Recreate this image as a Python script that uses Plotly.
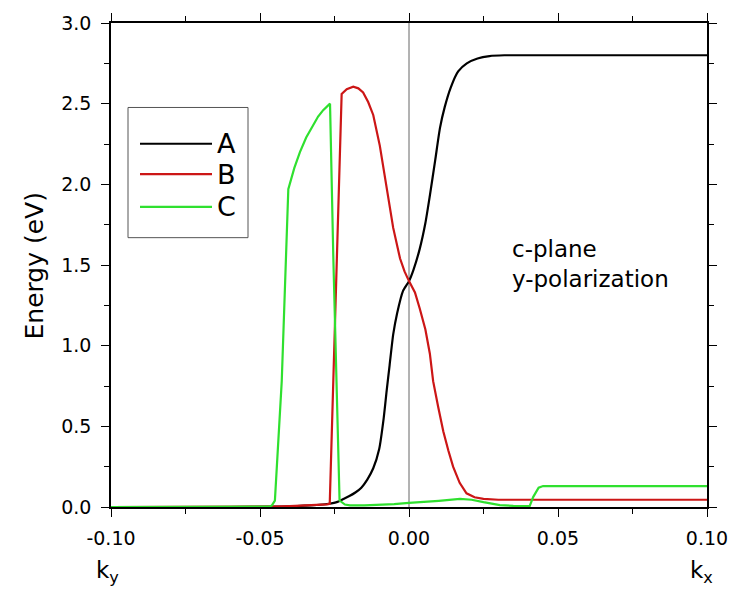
import plotly.graph_objects as go

# ---------------- data ----------------
series_names = ["A", "B", "C"]
series_colors = ["#000000", "#cc1616", "#2fe02f"]

a_k = [-0.10, -0.06, -0.045, -0.04, -0.035, -0.03, -0.027, -0.024, -0.022, -0.020,
       -0.018, -0.016, -0.014, -0.012, -0.010, -0.0085, -0.0075, -0.0065, -0.0053,
       -0.004, -0.002, 0.0, 0.0015, 0.0036, 0.0055, 0.007, 0.0088, 0.0104, 0.012,
       0.014, 0.0165, 0.0194, 0.023, 0.027, 0.032, 0.04, 0.06, 0.08, 0.10]
a_e = [0.0, 0.0, 0.002, 0.004, 0.008, 0.014, 0.02, 0.032, 0.05, 0.068,
       0.09, 0.12, 0.17, 0.24, 0.36, 0.55, 0.72, 0.88, 1.07,
       1.2, 1.34, 1.40, 1.47, 1.60, 1.76, 1.93, 2.15, 2.35, 2.48,
       2.60, 2.70, 2.75, 2.78, 2.795, 2.80, 2.80, 2.80, 2.80, 2.80]

b_k = [-0.10, -0.05, -0.046, -0.04, -0.035, -0.03, -0.0275, -0.0266, -0.0254, -0.024,
       -0.0226, -0.0209, -0.0198, -0.0187, -0.017, -0.0154, -0.0137, -0.012, -0.0098,
       -0.0075, -0.0053, -0.003, -0.0015, 0.0, 0.002, 0.0036, 0.0055, 0.007, 0.0081,
       0.0098, 0.0115, 0.0132, 0.0148, 0.017, 0.0193, 0.022, 0.025, 0.03, 0.05, 0.10]
b_e = [0.0, 0.0, 0.002, 0.005, 0.008, 0.012, 0.016, 0.02, 0.78, 1.67,
       2.56, 2.59, 2.60, 2.605, 2.595, 2.57, 2.51, 2.43, 2.24,
       1.97, 1.73, 1.54, 1.46, 1.40, 1.33, 1.23, 1.10, 0.95, 0.78,
       0.62, 0.47, 0.35, 0.25, 0.15, 0.085, 0.06, 0.05, 0.045, 0.045, 0.045]

c_k = [-0.10, -0.05, -0.047, -0.046, -0.045, -0.0427, -0.0415, -0.0405, -0.0385,
       -0.0366, -0.0345, -0.0321, -0.0305, -0.0288, -0.0275, -0.0265, -0.0254,
       -0.0243, -0.0233, -0.0215, -0.0198, -0.015, -0.01, -0.005, 0.0, 0.005, 0.01,
       0.0171, 0.021, 0.025, 0.0305, 0.035, 0.0405, 0.0417, 0.0435, 0.045, 0.06,
       0.08, 0.10]
c_e = [0.0, 0.0, 0.002, 0.01, 0.04, 0.78, 1.40, 1.97, 2.10,
       2.20, 2.29, 2.37, 2.42, 2.46, 2.48, 2.50, 1.55,
       0.78, 0.04, 0.015, 0.01, 0.01, 0.012, 0.018, 0.025, 0.03, 0.038,
       0.05, 0.045, 0.03, 0.012, 0.007, 0.006, 0.063, 0.12, 0.13, 0.13,
       0.13, 0.13]

x_ticks = [-0.10, -0.05, 0.00, 0.05, 0.10]
y_ticks = [0.0, 0.5, 1.0, 1.5, 2.0, 2.5, 3.0]

FONT = "DejaVu Sans"

# ---------------- layout geometry ----------------
W, H = 740, 592
ML, MR, MT, MB = 111, 33, 20, 85
PW, PH = W - ML - MR, H - MT - MB


def px(xp):
    return (xp - ML) / PW


def py(yp):
    return (H - MB - yp) / PH


fig = go.Figure()
shapes_of_line = ["spline", "linear", "linear"]
for name, col, kx, ey, shp in zip(series_names, series_colors,
                                  [a_k, b_k, c_k], [a_e, b_e, c_e], shapes_of_line):
    fig.add_trace(go.Scatter(x=kx, y=ey, mode="lines", name=name,
                             line=dict(color=col, width=2.2, shape=shp, smoothing=0.6),
                             showlegend=False))

axis_common = dict(
    showgrid=False, zeroline=False, showline=True, linecolor="black",
    linewidth=1.5, mirror="ticks", ticks="outside", ticklen=8, tickwidth=1.3,
    tickcolor="black", layer="below traces",
    tickfont=dict(family=FONT, size=19, color="black"),
)

fig.update_xaxes(range=[-0.1, 0.1], tickvals=x_ticks,
                 ticktext=[f"{v:.2f}" for v in x_ticks],
                 ticklabelstandoff=5,
                 minor=dict(ticks="outside", ticklen=5, dtick=0.025,
                            tickcolor="black", tickwidth=1.2),
                 **axis_common)
fig.update_yaxes(range=[0, 3], tickvals=y_ticks,
                 ticktext=[f"{v:.1f}" for v in y_ticks],
                 ticklabelstandoff=6,
                 minor=dict(ticks="outside", ticklen=5, dtick=0.25,
                            tickcolor="black", tickwidth=1.2),
                 **axis_common)

shapes = []
# vertical line at k = 0
shapes.append(dict(type="line", xref="x", yref="paper", x0=0, x1=0, y0=0, y1=1,
                   line=dict(color="#666666", width=1), layer="below"))
# manual legend box
shapes.append(dict(type="rect", xref="paper", yref="paper",
                   x0=px(128), x1=px(248), y0=py(236), y1=py(105),
                   line=dict(color="#555555", width=1), fillcolor="white"))
annotations = []
legend_y = [141.5, 172, 205]
for name, col, ly in zip(series_names, series_colors, legend_y):
    shapes.append(dict(type="line", xref="paper", yref="paper",
                       x0=px(140), x1=px(212), y0=py(ly), y1=py(ly),
                       line=dict(color=col, width=2.2)))
    annotations.append(dict(text=name, xref="paper", yref="paper",
                            x=px(215), y=py(ly), xanchor="left", yanchor="middle",
                            showarrow=False,
                            font=dict(family=FONT, size=27, color="black")))

annotations.append(dict(text="Energy (eV)", xref="paper", yref="paper",
                        x=px(34), y=py(265), textangle=-90, showarrow=False,
                        xanchor="center", yanchor="middle",
                        font=dict(family=FONT, size=25, color="black")))
annotations.append(dict(text="c-plane<br>y-polarization", xref="paper", yref="paper",
                        x=px(510), y=py(262), align="left", showarrow=False,
                        xanchor="left", yanchor="middle",
                        font=dict(family=FONT, size=23, color="black")))
annotations.append(dict(text="k<sub>y</sub>", xref="paper", yref="paper",
                        x=px(94), y=py(572), showarrow=False,
                        xanchor="left", yanchor="middle",
                        font=dict(family=FONT, size=23, color="black")))
annotations.append(dict(text="k<sub>x</sub>", xref="paper", yref="paper",
                        x=px(688), y=py(572), showarrow=False,
                        xanchor="left", yanchor="middle",
                        font=dict(family=FONT, size=23, color="black")))

fig.update_layout(width=W, height=H,
                  margin=dict(l=ML, r=MR, t=MT, b=MB, pad=0),
                  plot_bgcolor="white", paper_bgcolor="white",
                  shapes=shapes, annotations=annotations, showlegend=False,
                  font=dict(family=FONT, color="black"))

fig.write_html("out.html",
               config={"displayModeBar": False},
               post_script="document.body.style.margin='0';"
                           "document.body.style.overflow='hidden';")
